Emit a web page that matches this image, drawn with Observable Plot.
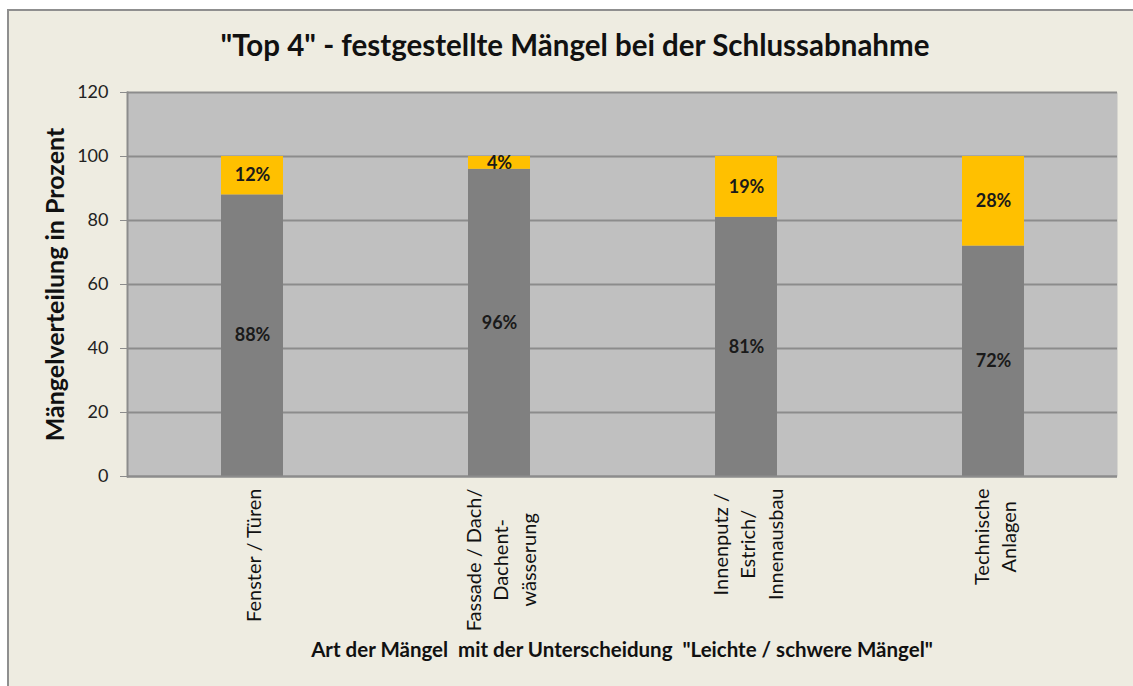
<!DOCTYPE html>
<html><head><meta charset="utf-8">
<script src="https://cdn.jsdelivr.net/npm/d3@7"></script>
<script src="https://cdn.jsdelivr.net/npm/@observablehq/plot@0.6"></script>
<style>
html,body{margin:0;padding:0;background:#fff;overflow:hidden;width:1133px;height:686px;font-family:Lato,sans-serif;}
#frame{position:absolute;left:7px;top:9px;width:1200px;height:800px;background:#eeece1;border-left:2px solid #8f8f8f;border-top:2px solid #8f8f8f;}
#title{position:absolute;left:20px;top:27px;width:1110px;text-align:center;font-size:29.5px;font-weight:bold;color:#111;line-height:36px;}
#chart{position:absolute;left:0;top:80px;}
#chart svg{overflow:visible;}
#xtitle{position:absolute;left:127px;width:990px;top:636px;text-align:center;font-size:20.5px;font-weight:bold;color:#111;line-height:26px;white-space:pre;}
</style></head>
<body>
<div id="frame"></div>
<div id="title"></div>
<div id="chart"></div>
<div id="xtitle"></div>
<script>
const titleText = "\"Top 4\" - festgestellte Mängel bei der Schlussabnahme";
const yLabel = "Mängelverteilung in Prozent";
const xLabel = "Art der Mängel  mit der Unterscheidung  \"Leichte / schwere Mängel\"";
const categories = ["Fenster / Türen", "Fassade / Dach/\nDachent-\nwässerung", "Innenputz /\nEstrich/\nInnenausbau", "Technische\nAnlagen"];
const seriesNames = ["grau", "gelb"];
const greyValues = [88, 96, 81, 72];
const yellowValues = [12, 4, 19, 28];
const yTicks = [0, 20, 40, 60, 80, 100, 120];
const colors = ["#808080", "#ffc000"];

document.getElementById("title").textContent = titleText;
document.getElementById("xtitle").textContent = xLabel;

const rows = [];
categories.forEach((c, i) => {
  rows.push({cat: c, series: seriesNames[0], value: greyValues[i]});
  rows.push({cat: c, series: seriesNames[1], value: yellowValues[i]});
});

const chart = Plot.plot({
  width: 1133,
  height: 560,
  marginLeft: 127,
  marginRight: 16,
  marginTop: 12,
  marginBottom: 164,
  style: {background: "transparent", fontFamily: "Lato, sans-serif", overflow: "visible"},
  x: {domain: categories, paddingInner: 0.75, paddingOuter: 0.375, axis: null},
  y: {domain: [0, 120], axis: null},
  color: {domain: seriesNames, range: colors},
  marks: [
    Plot.frame({fill: "#c0c0c0", stroke: null}),
    Plot.gridY(yTicks, {stroke: "#8c8c8c", strokeOpacity: 1, strokeWidth: 2}),
    Plot.barY(rows, {x: "cat", y: "value", fill: "series"}),
    Plot.text(rows, Plot.stackY({x: "cat", y: "value", text: d => d.value + "%", fill: "#1a1a1a", fontSize: 18, fontWeight: "bold"})),
    Plot.frame({anchor: "left", stroke: "#8c8c8c", strokeWidth: 2}),
    Plot.ruleY([0], {stroke: "#8c8c8c", strokeWidth: 2}),
    Plot.axisY(yTicks, {tickSize: 7, tickPadding: 12, fontSize: 18, color: "#8c8c8c", fill: "#222", label: null}),
    Plot.axisX({tickSize: 0, tickPadding: 12, tickRotate: -90, fontSize: 20, lineHeight: 1.38, fill: "#111", label: null}),
    Plot.text([yLabel], {frameAnchor: "left", textAnchor: "middle", rotate: -90, dx: -72, text: d => d, fontSize: 25, fontWeight: "bold", fill: "#111"})
  ]
});
document.getElementById("chart").appendChild(chart);

// Center the lines of each multi-line category label on its longest line (as in the reference)
chart.querySelectorAll('g[aria-label="x-axis tick label"] text').forEach(t => {
  const spans = t.querySelectorAll("tspan");
  if (spans.length < 2) return;
  const maxLen = Math.max(...Array.from(spans, s => s.getComputedTextLength()));
  t.setAttribute("text-anchor", "middle");
  spans.forEach(s => s.setAttribute("x", -maxLen / 2));
});
</script>
</body></html>
